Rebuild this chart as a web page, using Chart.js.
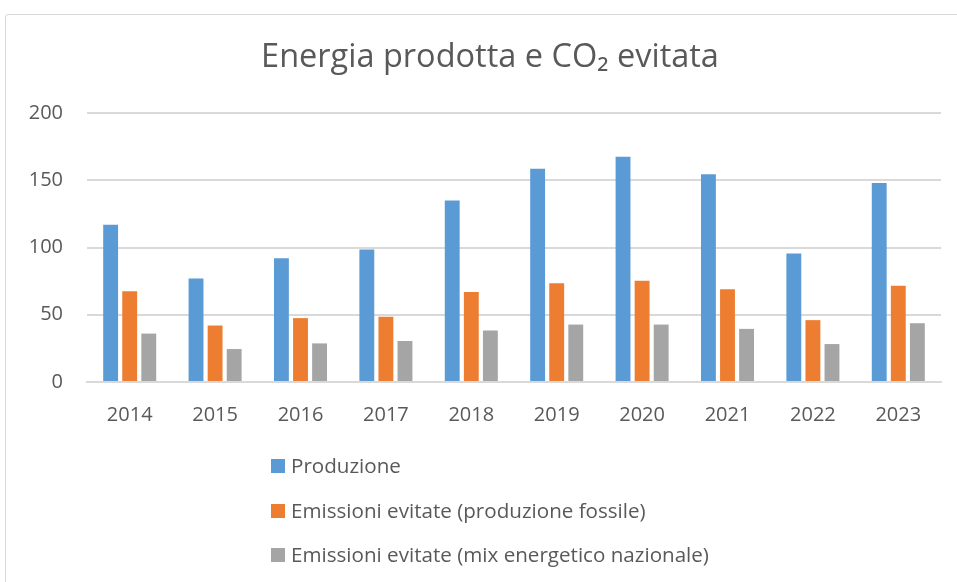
<!DOCTYPE html>
<html>
<head>
<meta charset="utf-8">
<script src="https://cdn.jsdelivr.net/npm/chart.js@4.4.1/dist/chart.umd.min.js"></script>
<style>
  html, body { margin: 0; padding: 0; background: #fff; overflow: hidden; }
  #wrap { position: relative; width: 957px; height: 582px; overflow: hidden; }
  #frame { position: absolute; left: 5px; top: 14px; width: 1000px; height: 600px;
           border: 1px solid #D9D9D9; border-radius: 3px; box-sizing: border-box; }
  canvas { position: absolute; left: 0; top: 0; }
</style>
</head>
<body>
<div id="wrap">
  <div id="frame"></div>
  <canvas id="c" width="960" height="582"></canvas>
</div>
<script>
const titleText = "Energia prodotta e CO\u2082 evitata";
const years = ["2014","2015","2016","2017","2018","2019","2020","2021","2022","2023"];
const seriesNames = ["Produzione", "Emissioni evitate (produzione fossile)", "Emissioni evitate (mix energetico nazionale)"];
const produzione = [117, 77, 92, 98.5, 135, 158.5, 167.5, 154.5, 95.5, 148];
const emissioniFossile = [67.5, 42, 47.5, 48.5, 67, 73.5, 75.3, 69, 46, 71.5];
const emissioniMix = [36, 24.5, 28.7, 30.5, 38.3, 42.7, 42.7, 39.5, 28.2, 43.7];
const yTicks = [0, 50, 100, 150, 200];
const colors = ["#5B9BD5", "#ED7D31", "#A5A5A5"];

const FONT = "'Open Sans', 'Noto Sans', sans-serif";
const TXT = "#595959";

const legendPlugin = {
  id: 'columnLegend',
  afterDraw(chart) {
    const ctx = chart.ctx;
    ctx.save();
    ctx.font = "20.6px " + FONT;
    ctx.textBaseline = "middle";
    const x0 = 271, ys = [466, 511, 555];
    chart.data.datasets.forEach((ds, i) => {
      ctx.fillStyle = ds.backgroundColor;
      ctx.fillRect(x0, ys[i] - 7, 14, 14);
      ctx.fillStyle = TXT;
      ctx.fillText(ds.label, x0 + 20, ys[i] + 1);
    });
    ctx.restore();
  }
};

new Chart(document.getElementById('c'), {
  type: 'bar',
  data: {
    labels: years,
    datasets: [
      { label: seriesNames[0], data: produzione, backgroundColor: colors[0] },
      { label: seriesNames[1], data: emissioniFossile, backgroundColor: colors[1] },
      { label: seriesNames[2], data: emissioniMix, backgroundColor: colors[2] }
    ]
  },
  options: {
    responsive: false,
    animation: false,
    datasets: { bar: { categoryPercentage: 0.67, barPercentage: 0.78, borderWidth: 0 } },
    layout: { padding: { left: 20, right: 0, top: 0, bottom: 160 } },
    plugins: {
      legend: { display: false },
      tooltip: { enabled: false },
      title: {
        display: true,
        text: titleText,
        color: TXT,
        font: { family: FONT, size: 32.5, weight: 'normal' },
        padding: { top: 38, bottom: 36 }
      }
    },
    scales: {
      x: {
        grid: { display: false, drawTicks: false },
        border: { display: true, color: "#D9D9D9", width: 2 },
        ticks: { color: TXT, font: { family: FONT, size: 20 }, padding: 21, maxRotation: 0 },
        afterFit: s => { s.height = 40; }
      },
      y: {
        min: 0, max: 200,
        afterBuildTicks: s => { s.ticks = yTicks.map(v => ({ value: v })); },
        grid: { color: "#D9D9D9", lineWidth: 2, drawTicks: false },
        border: { display: false },
        ticks: { color: TXT, font: { family: FONT, size: 20 }, padding: 24 },
        afterFit: s => { s.width = 67; }
      },
      yRight: {
        position: 'right',
        min: 0, max: 200,
        grid: { display: false, drawTicks: false },
        border: { display: false },
        ticks: { display: false },
        afterFit: s => { s.width = 19; }
      }
    }
  },
  plugins: [legendPlugin]
});
</script>
</body>
</html>
